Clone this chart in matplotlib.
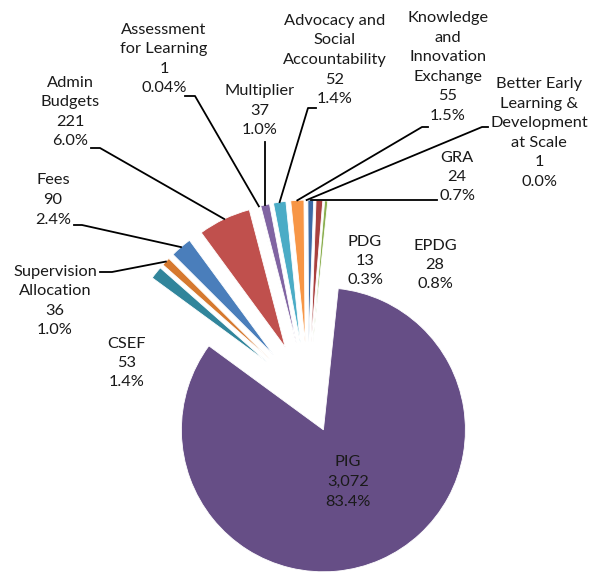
import numpy as np
import matplotlib.pyplot as plt

# slices in clockwise order, starting with PIG
names = ["PIG", "CSEF", "Supervision\nAllocation", "Fees", "Admin\nBudgets",
         "Assessment\nfor Learning", "Multiplier", "Advocacy and\nSocial\nAccountability",
         "Knowledge\nand\nInnovation\nExchange", "Better Early\nLearning &\nDevelopment\nat Scale",
         "GRA", "EPDG", "PDG"]
values = [3072, 53, 36, 90, 221, 1.4, 37, 52, 55, 1, 24, 28, 13]
value_txt = ["3,072", "53", "36", "90", "221", "1", "37", "52", "55", "1", "24", "28", "13"]
pct_txt = ["83.4%", "1.4%", "1.0%", "2.4%", "6.0%", "0.04%", "1.0%", "1.4%", "1.5%",
           "0.0%", "0.7%", "0.8%", "0.3%"]
colors = ["#664E86", "#31859B", "#D6792F", "#4A7EBB", "#C0504D", "#9BBB59", "#8064A2",
          "#4BACC6", "#F79646", "#2C4D75", "#3B6AA6", "#A8403E", "#8AAE4E"]

# label block centres (pixels) and leader start points
label_px = [(348, 482), (127, 363), (55, 301), (53, 200), (70, 112), (164, 59), (260, 111),
            (335, 60), (448, 67), (539, 133), (457, 177), (435, 265), (365, 261)]
leaders = {2: [(100, 272), (112, 272)], 3: [(74, 225), (82, 225)],
           4: [(91, 148), (100, 148)], 5: [(185, 96), (195, 96)],
           6: [(265, 142)], 7: [(316, 108), (308, 108)],
           8: [(428, 127), (422, 127)], 9: [(488, 127), (482, 127)],
           10: [(437, 202)]}

W, H = 602, 573
R = 142.0          # pie radius in pixels
CX, CY = 308, 395  # pie centre in pixels


def to_data(p):
    return (p[0] - CX) / R, (CY - p[1]) / R


plt.rcParams['font.family'] = ['Lato', 'DejaVu Sans']
fig = plt.figure(figsize=(W / 100, H / 100), dpi=100)
ax = fig.add_axes([0, 0, 1, 1])

explode = [0.268] + [0.373] * (len(values) - 1)
wedges, _ = ax.pie(values, colors=colors, explode=explode, startangle=84,
                   counterclock=False, radius=1,
                   wedgeprops=dict(linewidth=0.6, edgecolor="white"))

ax.set_xlim(-CX / R, (W - CX) / R)
ax.set_ylim((CY - H) / R, CY / R)
ax.set_aspect("equal")
ax.axis("off")

for i, w in enumerate(wedges):
    x, y = to_data(label_px[i])
    txt = f"{names[i]}\n{value_txt[i]}\n{pct_txt[i]}"
    ax.text(x, y, txt, ha="center", va="center", fontsize=11.8, color="#1a1a1a",
            linespacing=1.5)
    if i in leaders:
        # end of leader at the middle of the wedge's outer arc
        ang = np.deg2rad((w.theta1 + w.theta2) / 2)
        cx, cy = w.center
        end = (cx + w.r * np.cos(ang), cy + w.r * np.sin(ang))
        pts = [to_data(p) for p in leaders[i]]
        if i == 6:
            pts = [(end[0], pts[0][1])]
        elif i == 10:
            pts = [(pts[0][0], end[1])]
        pts.append(end)
        xs, ys = zip(*pts)
        ax.plot(xs, ys, color="black", linewidth=1.3)

fig.savefig("out.png", dpi=100)
